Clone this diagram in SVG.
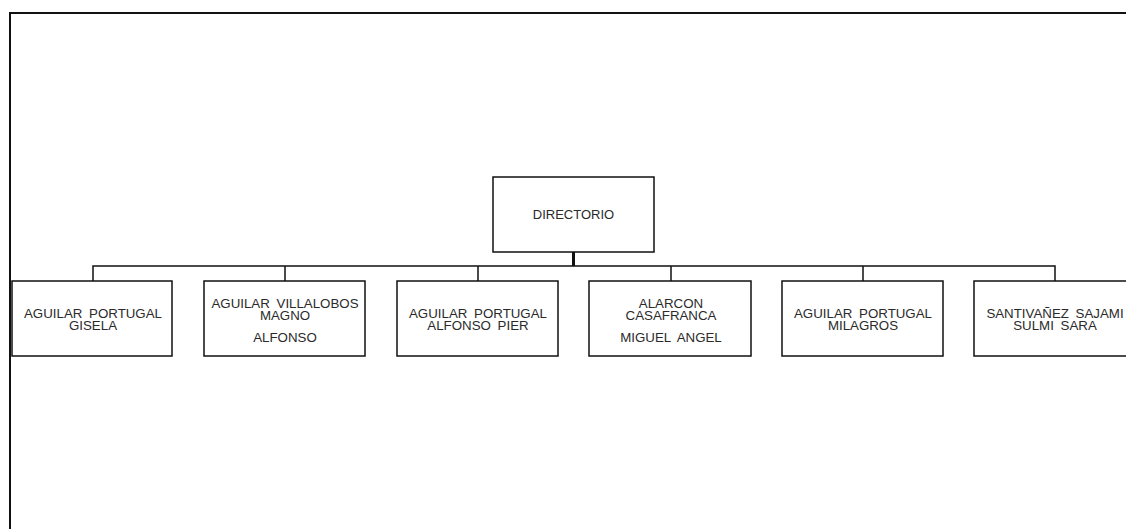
<svg xmlns="http://www.w3.org/2000/svg" width="1126" height="529" viewBox="0 0 1126 529">
<style>
.box{fill:#fff;stroke:#111;stroke-width:1.5}
.t{font-family:"Liberation Sans",Arial,sans-serif;font-size:13.3px;fill:#2a2a2a;text-anchor:middle;word-spacing:3px}
.c{fill:none;stroke:#111;stroke-width:1.5}
</style>
<rect x="0" y="0" width="1126" height="529" fill="#fff"/>
<rect x="10" y="13" width="1130" height="530" fill="none" stroke="#111" stroke-width="2"/>
<g id="connectors">
<line x1="573.5" y1="252" x2="573.5" y2="266" stroke="#111" stroke-width="3"/>
<path class="c" d="M93 281V266H1055V281M285 266V281M478 266V281M671 266V281M863 266V281"/>
</g>
<g id="directorio">
<rect class="box" x="493" y="177" width="161" height="75"/>
<text class="t" x="573.5" y="219" style="font-size:13px">DIRECTORIO</text>
</g>
<g id="n1">
<rect class="box" x="12" y="281" width="160" height="75"/>
<text class="t" x="93" y="318">AGUILAR PORTUGAL</text>
<text class="t" x="93" y="330">GISELA</text>
</g>
<g id="n2">
<rect class="box" x="204" y="281" width="161" height="75"/>
<text class="t" x="285" y="308">AGUILAR VILLALOBOS</text>
<text class="t" x="285" y="319.5">MAGNO</text>
<text class="t" x="285" y="342">ALFONSO</text>
</g>
<g id="n3">
<rect class="box" x="397" y="281" width="161" height="75"/>
<text class="t" x="478" y="318">AGUILAR PORTUGAL</text>
<text class="t" x="478" y="330">ALFONSO PIER</text>
</g>
<g id="n4">
<rect class="box" x="589" y="281" width="162" height="75"/>
<text class="t" x="671" y="308">ALARCON</text>
<text class="t" x="671" y="319.5">CASAFRANCA</text>
<text class="t" x="671" y="342">MIGUEL ANGEL</text>
</g>
<g id="n5">
<rect class="box" x="782" y="281" width="161" height="75"/>
<text class="t" x="863" y="318">AGUILAR PORTUGAL</text>
<text class="t" x="863" y="330">MILAGROS</text>
</g>
<g id="n6">
<rect class="box" x="974" y="281" width="162" height="75"/>
<text class="t" x="1055" y="318">SANTIVAÑEZ SAJAMI</text>
<text class="t" x="1055" y="330">SULMI SARA</text>
</g>
</svg>
